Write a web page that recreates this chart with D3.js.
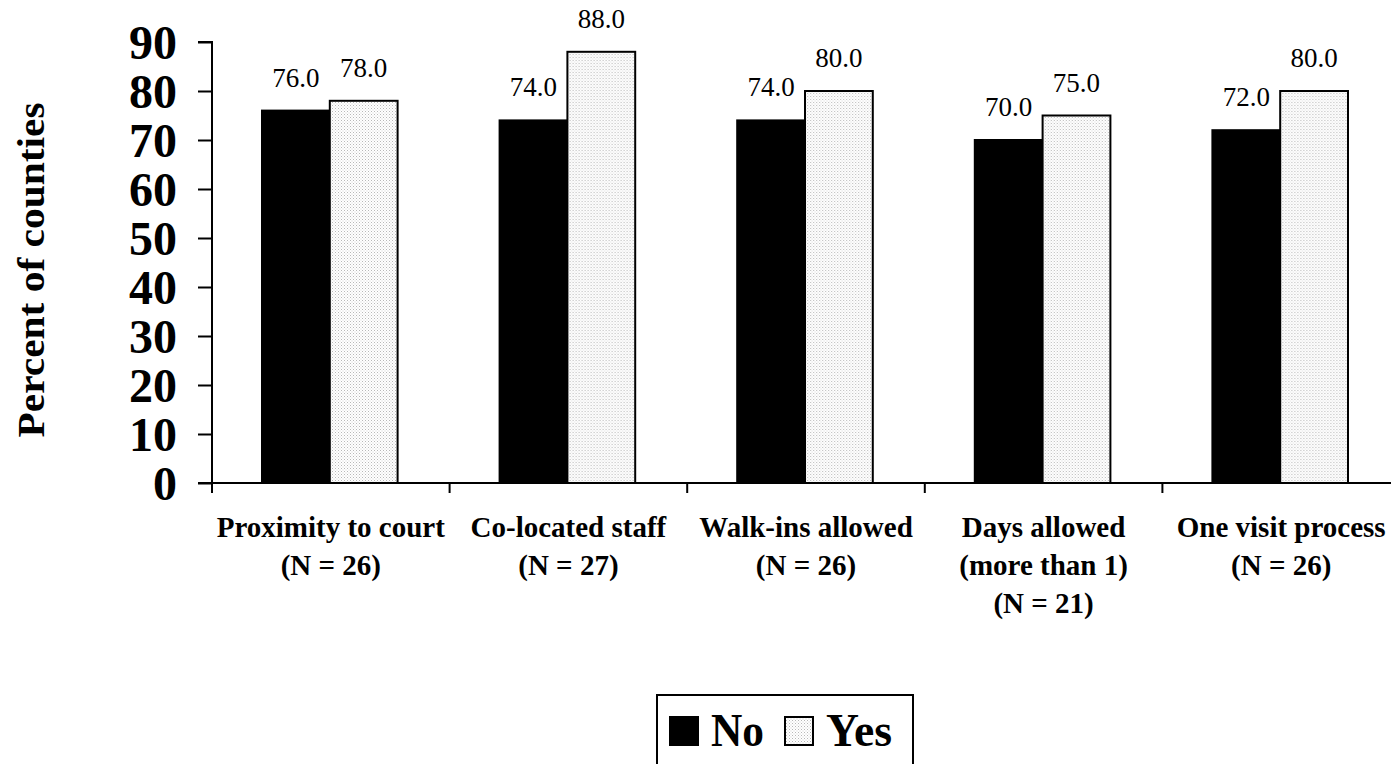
<!DOCTYPE html>
<html><head><meta charset="utf-8">
<script src="https://cdn.jsdelivr.net/npm/d3@7"></script>
<style>body{margin:0;background:#fff;} svg{display:block;}</style>
</head><body>
<svg id="c" width="1391" height="764"></svg>
<script>
const categories = [
  ["Proximity to court","(N = 26)"],
  ["Co-located staff","(N = 27)"],
  ["Walk-ins allowed","(N = 26)"],
  ["Days allowed","(more than 1)","(N = 21)"],
  ["One visit process","(N = 26)"]
];
const seriesNames = ["No","Yes"];
const noValues = [76.0, 74.0, 74.0, 70.0, 72.0];
const yesValues = [78.0, 88.0, 80.0, 75.0, 80.0];
const yTicks = [0,10,20,30,40,50,60,70,80,90];

const FONT = "Liberation Serif, 'Times New Roman', serif";
const svg = d3.select("#c");
const defs = svg.append("defs");
const pat = defs.append("pattern").attr("id","dots").attr("width",3).attr("height",3).attr("patternUnits","userSpaceOnUse");
pat.append("rect").attr("width",3).attr("height",3).attr("fill","#fff");
pat.append("rect").attr("width",1).attr("height",1).attr("fill","#b8b8b8");
pat.append("rect").attr("x",1.5).attr("y",1.5).attr("width",1).attr("height",1).attr("fill","#d0d0d0");

const pLeft = 212, pRight = 1400, pTop = 42, pBottom = 483;
const x0 = d3.scaleBand().domain(d3.range(categories.length)).range([pLeft, pRight]).paddingInner(0).paddingOuter(0);
const x1 = d3.scaleBand().domain(seriesNames).range([50, x0.bandwidth()-52]);
const y = d3.scaleLinear().domain([0,90]).range([pBottom, pTop]);

const fills = {No:"#000", Yes:"url(#dots)"};
const data = categories.map((c,i)=>({i, vals:[{s:"No",v:noValues[i]},{s:"Yes",v:yesValues[i]}]}));

const g = svg.append("g");
const grp = g.selectAll("g.grp").data(data).join("g").attr("transform",d=>`translate(${x0(d.i)},0)`);
grp.selectAll("rect").data(d=>d.vals).join("rect")
  .attr("x",d=>x1(d.s)).attr("width",x1.bandwidth())
  .attr("y",d=>y(d.v)).attr("height",d=>y(0)-y(d.v))
  .attr("fill",d=>fills[d.s]).attr("stroke","#000").attr("stroke-width",2);
grp.selectAll("text.val").data(d=>d.vals).join("text").attr("class","val")
  .attr("x",d=>x1(d.s)+x1.bandwidth()/2).attr("y",d=>y(d.v)-24)
  .attr("text-anchor","middle").attr("font-family",FONT)
  .attr("font-size",27).text(d=>d.v.toFixed(1));

// y axis
const yAxis = d3.axisLeft(y).tickValues(yTicks).tickSize(14).tickFormat(d3.format("d"));
const ya = svg.append("g").attr("transform",`translate(${pLeft},0)`).call(yAxis);
ya.select(".domain").attr("stroke","#000").attr("stroke-width",2).attr("d",`M-14,${pTop}H0V${pBottom}`);
ya.selectAll(".tick line").attr("stroke-width",2);
ya.selectAll(".tick text").attr("font-family",FONT)
  .attr("font-weight","bold").attr("font-size",48).attr("x",-35).attr("dy","0.34em").attr("fill","#000");

// x axis
const xa = svg.append("g").attr("transform",`translate(0,${pBottom})`);
xa.append("line").attr("x1",pLeft-14).attr("x2",1391).attr("stroke","#000").attr("stroke-width",2);
xa.selectAll("line.tk").data(d3.range(categories.length+1)).join("line").attr("class","tk")
  .attr("x1",d=>pLeft+d*x0.bandwidth()).attr("x2",d=>pLeft+d*x0.bandwidth()).attr("y1",0).attr("y2",10)
  .attr("stroke","#000").attr("stroke-width",2);
const xl = xa.selectAll("text").data(categories).join("text")
  .attr("transform",(d,i)=>`translate(${x0(i)+x0.bandwidth()/2},0)`)
  .attr("text-anchor","middle").attr("font-family",FONT)
  .attr("font-weight","bold").attr("font-size",29);
xl.selectAll("tspan").data(d=>d).join("tspan").attr("x",0).attr("y",(d,j)=>54+j*38).text(d=>d);

// y title
svg.append("text").attr("transform","translate(44,270) rotate(-90)").attr("text-anchor","middle")
  .attr("font-family",FONT).attr("font-weight","bold").attr("font-size",37)
  .attr("textLength",335).attr("lengthAdjust","spacingAndGlyphs")
  .text("Percent of counties");

// legend
const lg = svg.append("g");
lg.append("rect").attr("x",657).attr("y",695).attr("width",256).attr("height",90).attr("fill","#fff").attr("stroke","#000").attr("stroke-width",2);
const items = [{s:"No",x:670,w:53},{s:"Yes",x:785,w:66}];
items.forEach(it=>{
  lg.append("rect").attr("x",it.x).attr("y",717).attr("width",28).attr("height",28).attr("fill",fills[it.s]).attr("stroke","#000").attr("stroke-width",2);
  lg.append("text").attr("x",it.x+41).attr("y",746).attr("font-family",FONT)
    .attr("font-weight","bold").attr("font-size",47)
    .attr("textLength",it.w).attr("lengthAdjust","spacingAndGlyphs").text(it.s);
});
</script>
</body></html>
